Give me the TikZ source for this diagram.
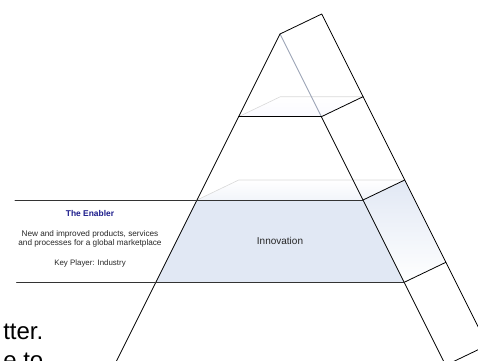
\documentclass[tikz,border=0pt]{standalone}
\usepackage{fontspec}
\setmainfont{Liberation Sans}
\definecolor{bandblue}{HTML}{E1E8F4}
\definecolor{navytext}{HTML}{1A1A8A}
\definecolor{edgegray}{HTML}{9CA4B6}
\begin{document}
\begin{tikzpicture}[x=1pt, y=-1pt, line join=round, line cap=round,
  font=\fontsize{8.2}{9.6}\selectfont,
  edge/.style={line width=0.8pt, black},
  backline/.style={line width=0.6pt, black!15},
  bandline/.style={line width=1pt, black!80}]
\useasboundingbox (0,0) rectangle (478,360);
% apex and level corners (front left L, front right R, back left K, back right B)
\coordinate (A) at (280,34);
\coordinate (Ab) at (321.7,14);
\foreach \n/\y in {1/116.7, 2/200, 3/282.3, 4/365.3} {
  \coordinate (L\n) at ({280-0.5*(\y-34)},\y);
  \coordinate (R\n) at ({280+0.5*(\y-34)},\y);
  \coordinate (K\n) at ({280-0.5*(\y-34)+41.7},\y-20);
  \coordinate (B\n) at ({280+0.5*(\y-34)+41.7},\y-20);
}
% fills
\shade[top color=white, bottom color=blue!2] (L1)--(K1)--(B1)--(R1)--cycle;
\shade[top color=white, bottom color=bandblue!45] (L2)--(K2)--(B2)--(R2)--cycle;
\fill[bandblue] (L2)--(R2)--(R3)--(L3)--cycle;
\shade[top color=bandblue, bottom color=white] (R2)--(B2)--(B3)--(R3)--cycle;
% hidden back edges
\foreach \n in {1,2} \draw[backline] (L\n)--(K\n)--(B\n);
\draw[line width=0.9pt, edgegray] (A)--(R1);
% outline
\draw[edge] (A)--(L4);
\draw[edge] (R1)--(R4);
\draw[edge] (A)--(Ab)--(B4);
\foreach \n in {1,2,3,4} \draw[edge] (R\n)--(B\n);
\draw[edge] (L1)--(R1);
\coordinate (bandtop) at (15,200);
\coordinate (bandbot) at (16.7,282.3);
\draw[bandline] (bandtop)--(R2);
\draw[bandline] (bandbot)--(R3);
% labels
\node[text=navytext, font=\fontsize{8.4}{10}\selectfont\bfseries] (enabler) at (90,213) {The Enabler};
\node[align=center, text=black!85] (desc) at (90,239) {New and improved products, services\\and processes for a global marketplace};
\node[text=black!85, font=\fontsize{7.9}{9.4}\selectfont] (player) at (90,263.5) {Key Player: Industry};
\node[text=black!85, font=\fontsize{10}{12}\selectfont] (innov) at (280,241) {Innovation};
\node[anchor=base east, font=\fontsize{24}{28}\selectfont, inner sep=0pt] (tail1) at (43.5,339) {tter.};
\node[anchor=base east, font=\fontsize{24}{28}\selectfont, inner sep=0pt] (tail2) at (43.5,368) {e to};
\end{tikzpicture}
\end{document}
